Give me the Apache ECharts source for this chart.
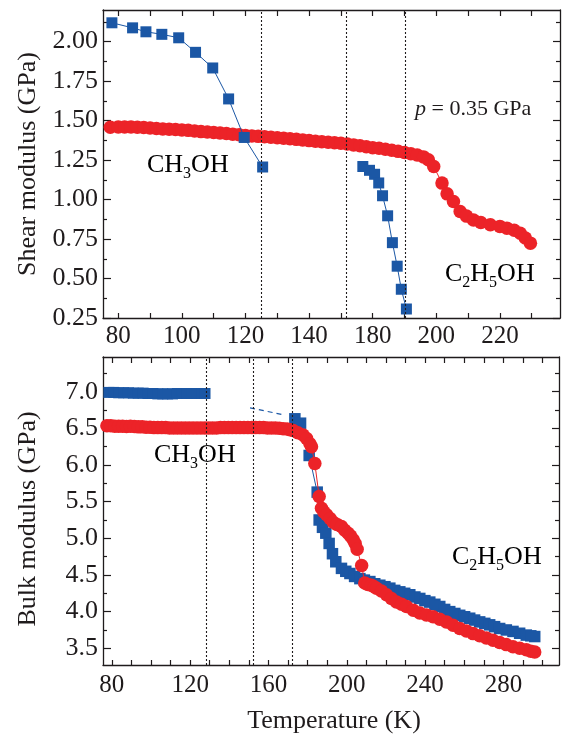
<!DOCTYPE html>
<html><head><meta charset="utf-8">
<script src="https://cdn.jsdelivr.net/npm/echarts@6/dist/echarts.min.js"></script>
<style>html,body{margin:0;padding:0;background:#fff}#c{width:567px;height:738px}</style>
</head><body><div id="c"></div>
<script>
// ---------- tick labels ----------
const shearXTickValues = [80, 100, 120, 140, 160, 180, 200];
const shearXTickLabels = ['80', '100', '120', '140', '180', '200', '220'];
const shearYTicks = [0.25, 0.50, 0.75, 1.00, 1.25, 1.50, 1.75, 2.00];
const bulkXTickValues = [80, 120, 160, 200, 240, 280];
const bulkYTicks = [3.5, 4.0, 4.5, 5.0, 5.5, 6.0, 6.5, 7.0];

// ---------- transition temperatures (dotted lines) ----------
const shearMarks = [125.1, 151.6, 170.3];
const bulkMarks = [128.0, 152.2, 172.1];

// ---------- shear modulus (GPa) ----------
const ethShearA = [[78.0,2.119],[84.5,2.087],[88.7,2.062],[93.7,2.046],[99.0,2.024],[104.3,1.932],[109.7,1.833],[114.7,1.637],[119.6,1.393],[125.4,1.206]];
const ethShearB = [[156.9,1.209],[159.0,1.185],[160.6,1.160],[161.9,1.105],[163.1,1.024],[164.7,0.897],[166.2,0.727],[167.7,0.578],[169.0,0.432],[170.6,0.307]];
const methShear = [[77.5,1.458],[80,1.460],[82,1.460],[84,1.459],[86,1.458],[88,1.456],[90,1.453],[92,1.450],[94,1.447],[96,1.445],[98,1.443],[100,1.441],[102,1.438],[104,1.434],[106,1.430],[108,1.427],[110,1.424],[112,1.421],[114,1.418],[116,1.414],[118,1.410],[120,1.406],[122,1.403],[124,1.400],[126,1.397],[128,1.394],[130,1.391],[132,1.388],[134,1.385],[136,1.381],[138,1.377],[140,1.373],[142,1.369],[144,1.366],[146,1.363],[148,1.360],[150,1.357],[152,1.351],[154,1.346],[156,1.340],[158,1.334],[160,1.328],[162,1.325],[164,1.319],[166,1.312],[168,1.305],[170,1.298],[172,1.290],[174,1.282],[176,1.270],[177.5,1.252],[179.2,1.209],[181.8,1.104],[183.4,1.036],[185.4,0.987],[187.5,0.924],[189.5,0.895],[191.7,0.871],[194,0.855],[197,0.840],[200,0.830],[202.2,0.819],[204.5,0.805],[206.4,0.787],[208,0.757],[209.6,0.724]];

// ---------- bulk modulus (GPa) ----------
const ethBulkA = [[78.5,6.99],[81,6.99],[83.5,6.985],[86,6.985],[88.5,6.985],[91,6.98],[93.5,6.98],[96,6.98],[98.5,6.975],[101,6.975],[103.5,6.97],[106,6.97],[108.5,6.97],[111,6.97],[113.5,6.975],[116,6.975],[118.5,6.975],[121,6.975],[123.5,6.975],[126,6.975],[127.6,6.975]];
const ethBulkDash = [[150.6,6.78],[166.7,6.69]];
const ethBulkB = [[173.5,6.63],[176.4,6.57],[180.8,6.13],[184.9,5.63],[185.9,5.25],[187.6,5.15],[189.3,5.07],[191.0,4.93],[192.7,4.79],[194.4,4.68],[197.3,4.59],[199.5,4.55],[201.6,4.52],[204.0,4.48],[206.7,4.45],[209.0,4.43],[211.8,4.41],[214.3,4.38],[216.9,4.36],[219.5,4.34],[222.0,4.32],[224.5,4.29],[227.1,4.27],[229.6,4.25],[232.2,4.23],[234.8,4.20],[237.3,4.18],[239.9,4.15],[242.4,4.13],[245.0,4.10],[247.5,4.07],[250.0,4.03],[252.6,4.00],[255.2,3.975],[257.7,3.95],[260.2,3.93],[262.8,3.91],[265.3,3.885],[267.9,3.86],[270.5,3.84],[273.0,3.82],[275.5,3.795],[278.1,3.77],[281.5,3.75],[284.9,3.73],[288.3,3.705],[291.7,3.68],[294.0,3.67],[296.0,3.66]];
const methBulk = [[77.5,6.535],[79.5,6.535],[81.5,6.53],[83.5,6.53],[85.5,6.53],[87.5,6.525],[89.5,6.53],[91.5,6.525],[93.5,6.52],[95.5,6.52],[97.5,6.515],[99.5,6.515],[101.5,6.51],[103.5,6.51],[105.5,6.51],[107.5,6.51],[109.5,6.505],[111.5,6.505],[113.5,6.505],[115.5,6.505],[117.5,6.505],[119.5,6.505],[121.5,6.505],[123.5,6.505],[125.5,6.505],[127.5,6.505],[129.5,6.505],[131.5,6.505],[133.5,6.505],[135.5,6.51],[137.5,6.51],[139.5,6.51],[141.5,6.51],[143.5,6.51],[145.5,6.51],[147.5,6.51],[149.5,6.51],[151.5,6.51],[153.5,6.51],[155.5,6.51],[157.5,6.51],[159.5,6.505],[161.5,6.505],[163.5,6.505],[165.5,6.50],[167.5,6.495],[169.5,6.49],[171.0,6.48],[172.6,6.47],[175.0,6.44],[177.7,6.41],[179.5,6.36],[181.2,6.29],[182.0,6.25],[183.7,6.02],[185.9,5.57],[187.1,5.41],[188.3,5.36],[189.7,5.32],[191.5,5.27],[193.1,5.22],[195.0,5.19],[197.3,5.16],[199.0,5.11],[200.7,5.07],[202.0,5.03],[203.3,4.98],[204.3,4.93],[205.3,4.85],[207.6,4.63],[209.2,4.39],[210.8,4.37],[212.6,4.36],[214.0,4.34],[215.2,4.32],[217.7,4.28],[220.3,4.23],[222.8,4.18],[225.4,4.13],[228.0,4.10],[230.5,4.07],[234.0,4.02],[237.3,3.98],[240.7,3.955],[244.1,3.93],[247.5,3.895],[250.9,3.86],[254.3,3.815],[257.7,3.77],[261.1,3.735],[264.5,3.70],[267.9,3.67],[271.3,3.64],[274.7,3.61],[278.1,3.58],[281.5,3.55],[284.9,3.52],[288.3,3.50],[291.7,3.48],[294.0,3.46],[296.0,3.45]];

// ---------- styling ----------
const FONT = '"Liberation Serif", "Times New Roman", serif';
const INK = '#1f1b1c';
const BLUE = '#1b57a5';
const RED = '#ec2328';

function steps(a, b, s) { const r = []; for (let v = a; v <= b + 1e-9; v += s) r.push(+v.toFixed(4)); return r; }
function mids(arr) { const r = []; for (let i = 0; i < arr.length; i++) r.push(+(arr[i] + (arr[1] - arr[0]) / 2).toFixed(4)); return r; }

const lineSt = { color: INK, width: 1.3 };
const tickSt = { color: INK, width: 1.2 };

function xAx(grid, pos, min, max, ticks, labVals, labFn, len, margin) {
  return {
    gridIndex: grid, type: 'value', position: pos, min: min, max: max,
    axisLine: { show: true, onZero: false, lineStyle: lineSt },
    axisTick: { show: true, inside: true, length: len, customValues: ticks, lineStyle: tickSt },
    axisLabel: labVals ? { show: true, customValues: labVals, formatter: labFn, fontFamily: FONT, fontSize: 25, color: INK, margin: margin } : { show: false },
    splitLine: { show: false }
  };
}
function yAx(grid, pos, min, max, ticks, labFn, len, showLine) {
  return {
    gridIndex: grid, type: 'value', position: pos, min: min, max: max,
    axisLine: { show: showLine, onZero: false, lineStyle: lineSt },
    axisTick: { show: true, inside: true, length: len, customValues: ticks, lineStyle: tickSt },
    axisLabel: labFn ? { show: true, customValues: ticks, formatter: labFn, fontFamily: FONT, fontSize: 26, color: INK, margin: 5 } : { show: false },
    splitLine: { show: false }
  };
}

const sMinX = 75.2, sMaxX = 218.9, sMinY = 0.25, sMaxY = 2.2;
const bMinX = 75.5, bMaxX = 308.4, bMinY = 3.272, bMaxY = 7.473;

const shearLab = v => { const i = shearXTickValues.findIndex(t => Math.abs(t - v) < 1e-6); return i < 0 ? '' : shearXTickLabels[i]; };
const bulkLab = v => String(Math.round(v));

const shearMinor = mids(shearYTicks).filter(v => v < sMaxY);
const bulkMinor = [3.25].concat(mids(bulkYTicks)).filter(v => v < bMaxY && v > bMinY);

function rich(color) {
  return {
    m: { fontFamily: FONT, fontSize: 26, color: color, lineHeight: 34 },
    s: { fontFamily: FONT, fontSize: 16, color: color, lineHeight: 16, verticalAlign: 'bottom' }
  };
}

const dotted = (vals) => ({
  silent: true, symbol: ['none', 'none'], label: { show: false },
  lineStyle: { type: [2, 2], color: INK, width: 1.1 },
  emphasis: { disabled: true },
  data: vals.map(v => ({ xAxis: v }))
});

const option = {
  animation: false,
  backgroundColor: '#fff',
  grid: [
    { left: 103, top: 10, width: 457, height: 308 },
    { left: 103, top: 357, width: 456, height: 308 }
  ],
  xAxis: [
    xAx(0, 'bottom', sMinX, sMaxX, steps(80, 210, 10), shearXTickValues, shearLab, 5, 6),
    xAx(0, 'top', sMinX, sMaxX, steps(80, 210, 10), null, null, 6, 0),
    xAx(1, 'bottom', bMinX, bMaxX, steps(80, 300, 10), bulkXTickValues, bulkLab, 5, 8),
    xAx(1, 'top', bMinX, bMaxX, steps(80, 300, 10), null, null, 6, 0)
  ],
  yAxis: [
    yAx(0, 'left', sMinY, sMaxY, shearYTicks, v => v.toFixed(2), 8, true),
    yAx(0, 'right', sMinY, sMaxY, shearYTicks, null, 7, true),
    yAx(0, 'left', sMinY, sMaxY, shearMinor, null, 4, false),
    yAx(0, 'right', sMinY, sMaxY, shearMinor, null, 4, false),
    yAx(1, 'left', bMinY, bMaxY, bulkYTicks, v => v.toFixed(1), 8, true),
    yAx(1, 'right', bMinY, bMaxY, bulkYTicks, null, 7, true),
    yAx(1, 'left', bMinY, bMaxY, bulkMinor, null, 4, false),
    yAx(1, 'right', bMinY, bMaxY, bulkMinor, null, 4, false)
  ],
  series: [
    { name: 'CH3OH shear', type: 'line', xAxisIndex: 0, yAxisIndex: 0, data: methShear,
      symbol: 'circle', symbolSize: 13.5, itemStyle: { color: RED }, lineStyle: { color: RED, width: 1 }, z: 2 },
    { name: 'C2H5OH shear', type: 'line', xAxisIndex: 0, yAxisIndex: 0, data: ethShearA,
      symbol: 'rect', symbolSize: 11, itemStyle: { color: BLUE }, lineStyle: { color: BLUE, width: 1 }, z: 3,
      markLine: dotted(shearMarks) },
    { name: 'C2H5OH shear 2', type: 'line', xAxisIndex: 0, yAxisIndex: 0, data: ethShearB,
      symbol: 'rect', symbolSize: 11, itemStyle: { color: BLUE }, lineStyle: { color: BLUE, width: 1 }, z: 3 },

    { name: 'C2H5OH bulk', type: 'line', xAxisIndex: 2, yAxisIndex: 4, data: ethBulkA,
      symbol: 'rect', symbolSize: 11, itemStyle: { color: BLUE }, lineStyle: { color: BLUE, width: 1 }, z: 2,
      markLine: dotted(bulkMarks) },
    { name: 'C2H5OH bulk extrap', type: 'line', xAxisIndex: 2, yAxisIndex: 4, data: ethBulkDash,
      symbol: 'none', lineStyle: { color: BLUE, width: 1.2, type: [5, 4] }, z: 2 },
    { name: 'C2H5OH bulk 2', type: 'line', xAxisIndex: 2, yAxisIndex: 4, data: ethBulkB,
      symbol: 'rect', symbolSize: 11.5, itemStyle: { color: BLUE }, lineStyle: { color: BLUE, width: 1 }, z: 2 },
    { name: 'CH3OH bulk', type: 'line', xAxisIndex: 2, yAxisIndex: 4, data: methBulk,
      symbol: 'circle', symbolSize: 13.5, itemStyle: { color: RED }, lineStyle: { color: RED, width: 1 }, z: 3 }
  ],
  graphic: [
    { type: 'text', x: 28, y: 164, rotation: Math.PI / 2, silent: true,
      style: { text: 'Shear modulus (GPa)', font: '26px ' + FONT, fill: INK, textAlign: 'center', textVerticalAlign: 'middle' } },
    { type: 'text', x: 28, y: 519, rotation: Math.PI / 2, silent: true,
      style: { text: 'Bulk modulus (GPa)', font: '26px ' + FONT, fill: INK, textAlign: 'center', textVerticalAlign: 'middle' } },
    { type: 'text', x: 334, y: 721, silent: true,
      style: { text: 'Temperature (K)', font: '26px ' + FONT, fill: INK, textAlign: 'center', textVerticalAlign: 'middle' } },
    { type: 'text', x: 415, y: 98, silent: true,
      style: { text: '{i|p} = 0.35 GPa', font: '22px ' + FONT, fill: INK, rich: { i: { fontFamily: FONT, fontSize: 22, fontStyle: 'italic', fill: INK, color: INK } } } },
    { type: 'text', x: 147, y: 148, silent: true,
      style: { text: '{m|CH}{s|3}{m|OH}', rich: rich(RED) } },
    { type: 'text', x: 445, y: 257, silent: true,
      style: { text: '{m|C}{s|2}{m|H}{s|5}{m|OH}', rich: rich(BLUE) } },
    { type: 'text', x: 154, y: 438, silent: true,
      style: { text: '{m|CH}{s|3}{m|OH}', rich: rich(RED) } },
    { type: 'text', x: 452, y: 540, silent: true,
      style: { text: '{m|C}{s|2}{m|H}{s|5}{m|OH}', rich: rich(BLUE) } }
  ]
};

const chart = echarts.init(document.getElementById('c'), null, { renderer: 'canvas' });
chart.setOption(option);
</script>
</body></html>
